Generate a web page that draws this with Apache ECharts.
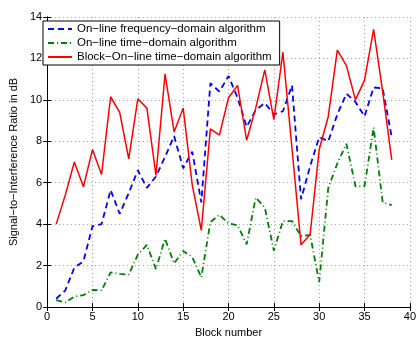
<!DOCTYPE html>
<html>
<head>
<meta charset="utf-8">
<script src="https://cdn.jsdelivr.net/npm/echarts@6/dist/echarts.min.js"></script>
<style>
  html, body { margin: 0; padding: 0; background: #fff; }
  #chart { width: 419px; height: 343px; }
</style>
</head>
<body>
<div id="chart"></div>
<script>
const blocks = [1, 2, 3, 4, 5, 6, 7, 8, 9, 10, 11, 12, 13, 14, 15, 16, 17, 18, 19, 20,
  21, 22, 23, 24, 25, 26, 27, 28, 29, 30, 31, 32, 33, 34, 35, 36, 37, 38];

const freqDomain = [0.4, 0.8, 1.9, 2.2, 3.9, 4.0, 5.65, 4.5, 5.5, 6.6, 5.75, 6.3, 7.25, 8.25, 6.7, 7.5, 5.05, 10.8, 10.4, 11.15,
  10.1, 8.7, 9.5, 9.85, 9.3, 9.45, 10.7, 5.2, 6.8, 8.2, 8.0, 9.3, 10.3, 9.9, 9.2, 10.6, 10.55, 8.2];

const timeDomain = [0.33, 0.22, 0.5, 0.57, 0.83, 0.8, 1.67, 1.6, 1.56, 2.53, 3.0, 1.83, 3.3, 2.1, 2.7, 2.42, 1.43, 4.1, 4.45, 4.03,
  3.95, 3.02, 5.28, 4.8, 2.72, 4.15, 4.15, 3.42, 3.48, 1.2, 5.75, 6.93, 7.88, 5.83, 5.83, 8.67, 5.05, 4.92];

const blockTimeDomain = [4.0, 5.4, 7.0, 5.8, 7.6, 6.4, 10.15, 9.4, 7.15, 10.05, 9.6, 6.35, 11.25, 8.45, 9.6, 5.9, 3.7, 8.6, 8.3, 10.1,
  10.7, 8.05, 9.6, 11.45, 9.05, 12.3, 7.65, 3.0, 3.5, 7.6, 9.2, 12.4, 11.65, 10.0, 10.95, 13.4, 10.4, 7.1];

const seriesNames = [
  "On−line frequency−domain algorithm",
  "On−line time−domain algorithm",
  "Block−On−line time−domain algorithm"
];

const colors = { blue: "#0000ff", green: "#008000", red: "#ff0000", ink: "#000000", grid: "#a0a0a0" };
const font = "'Liberation Sans', Arial, Helvetica, sans-serif";

const pairs = values => blocks.map((b, i) => [b, values[i]]);

const boxAxis = (extra) => ({
  min: 0,
  type: "value",
  axisLine: { show: true, lineStyle: { color: colors.ink, width: 1 } },
  axisTick: { show: true, inside: true, length: 4, lineStyle: { color: colors.ink } },
  ...extra
});

const xBase = { max: 40, interval: 5 };
const yBase = { max: 14, interval: 2 };

const chart = echarts.init(document.getElementById("chart"), null, { renderer: "canvas" });

chart.setOption({
  animation: false,
  backgroundColor: "#fff",
  textStyle: { fontFamily: font, color: colors.ink },
  grid: { left: 39, right: 5, top: 17, bottom: 29, containLabel: false },
  legend: {
    orient: "vertical",
    left: 43,
    top: 21,
    backgroundColor: "#fff",
    borderColor: colors.ink,
    borderWidth: 1,
    borderRadius: 0,
    padding: [2, 8, 2, 4],
    itemGap: 2,
    itemWidth: 24,
    itemHeight: 12,
    itemStyle: { opacity: 0 },
    textStyle: { fontFamily: font, fontSize: 11.5, color: colors.ink },
    data: seriesNames
  },
  xAxis: [
    boxAxis({
      ...xBase,
      position: "bottom",
      name: "Block number",
      nameLocation: "middle",
      nameGap: 20,
      nameTextStyle: { fontFamily: font, fontSize: 11, color: colors.ink },
      axisLabel: { color: colors.ink, fontFamily: font, fontSize: 11, margin: 4 },
      splitLine: { show: true, lineStyle: { color: colors.grid, type: [1, 3], width: 1 } }
    }),
    boxAxis({ ...xBase, position: "top", axisLabel: { show: false }, splitLine: { show: false } })
  ],
  yAxis: [
    boxAxis({
      ...yBase,
      position: "left",
      name: "Signal−to−Interference Ratio in dB",
      nameLocation: "middle",
      nameGap: 24,
      nameTextStyle: { fontFamily: font, fontSize: 11, color: colors.ink },
      axisLabel: { color: colors.ink, fontFamily: font, fontSize: 11, margin: 5 },
      splitLine: { show: true, lineStyle: { color: colors.grid, type: [1, 3], width: 1 } }
    }),
    boxAxis({ ...yBase, position: "right", axisLabel: { show: false }, splitLine: { show: false } })
  ],
  series: [
    {
      name: seriesNames[0],
      type: "line",
      data: pairs(freqDomain),
      symbol: "none",
      itemStyle: { color: colors.blue },
      lineStyle: { color: colors.blue, width: 1.8, type: [6, 4] }
    },
    {
      name: seriesNames[1],
      type: "line",
      data: pairs(timeDomain),
      symbol: "none",
      itemStyle: { color: colors.green },
      lineStyle: { color: colors.green, width: 1.8, type: [6, 3, 1, 3] }
    },
    {
      name: seriesNames[2],
      type: "line",
      data: pairs(blockTimeDomain),
      symbol: "none",
      itemStyle: { color: colors.red },
      lineStyle: { color: colors.red, width: 1.5 }
    }
  ]
});
</script>
</body>
</html>
